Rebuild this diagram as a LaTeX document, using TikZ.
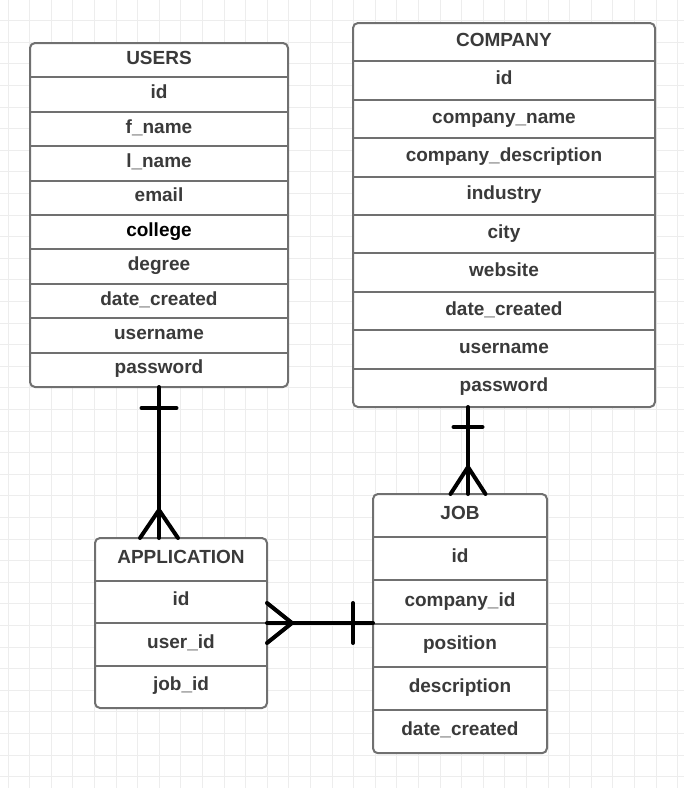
\documentclass[tikz,border=0pt]{standalone}
\usepackage{fontspec}
\setmainfont{Liberation Sans}
\usetikzlibrary{calc}
\pgfdeclarelayer{gridlayer}
\pgfdeclarelayer{background}
\pgfsetlayers{gridlayer,background,main}
\definecolor{gridgray}{HTML}{EDEDED}
\definecolor{boxgray}{HTML}{707070}
\definecolor{textgray}{HTML}{3A3A3A}

\begin{document}
\begin{tikzpicture}[x=1pt, y=-1pt,
every node/.style = {inner sep=0pt, outer sep=0pt, anchor=north west,
text=textgray, font=\fontsize{19}{22}\selectfont\bfseries,
text height=13pt, text depth=5pt},
gridline/.style = {gridgray, line width=1pt},
frame/.style = {boxgray, line width=2pt, rounded corners=5pt},
sep/.style = {boxgray, line width=2pt},
rel/.style = {black, line width=4pt, line cap=round}]
\useasboundingbox (0,0) rectangle (684,788);

% grid paper
\begin{pgfonlayer}{gridlayer}
\fill[white] (0,0) rectangle (684,788);
\foreach \gx in {8,29.6,...,684} \draw[gridline] (\gx,0) -- (\gx,788);
\foreach \gy in {20.6,42.2,...,788} \draw[gridline] (0,\gy) -- (684,\gy);
\end{pgfonlayer}

% USERS
\foreach \f [count=\i from 0] in {USERS,id,f\_name,l\_name,email,
{\textcolor{black}{college}},degree,date\_created,username,password}
\node [minimum width=258pt, minimum height=34.4pt] (users-\i) at (30,{43+34.4*\i}) {\f};
\foreach \i in {0,...,8} \draw[sep] (users-\i.south west) -- (users-\i.south east);
\draw[frame] (users-0.north west) rectangle (users-9.south east);
\begin{pgfonlayer}{background}
\fill[white, rounded corners=5pt] (users-0.north west) rectangle (users-9.south east);
\end{pgfonlayer}

% COMPANY
\foreach \f [count=\i from 0] in {COMPANY,id,company\_name,company\_description,
industry,city,website,date\_created,username,password}
\node [minimum width=302pt, minimum height=38.4pt] (company-\i) at (353,{23+38.4*\i}) {\f};
\foreach \i in {0,...,8} \draw[sep] (company-\i.south west) -- (company-\i.south east);
\draw[frame] (company-0.north west) rectangle (company-9.south east);
\begin{pgfonlayer}{background}
\fill[white, rounded corners=5pt] (company-0.north west) rectangle (company-9.south east);
\end{pgfonlayer}

% JOB
\foreach \f [count=\i from 0] in {JOB,id,company\_id,position,description,date\_created}
\node [minimum width=174pt, minimum height=43.2pt] (job-\i) at (373,{494+43.2*\i}) {\f};
\foreach \i in {0,...,4} \draw[sep] (job-\i.south west) -- (job-\i.south east);
\draw[frame] (job-0.north west) rectangle (job-5.south east);
\begin{pgfonlayer}{background}
\fill[white, rounded corners=5pt] (job-0.north west) rectangle (job-5.south east);
\end{pgfonlayer}

% APPLICATION
\foreach \f [count=\i from 0] in {APPLICATION,id,user\_id,job\_id}
\node [minimum width=172pt, minimum height=42.5pt] (app-\i) at (95,{538+42.5*\i}) {\f};
\foreach \i in {0,...,2} \draw[sep] (app-\i.south west) -- (app-\i.south east);
\draw[frame] (app-0.north west) rectangle (app-3.south east);
\begin{pgfonlayer}{background}
\fill[white, rounded corners=5pt] (app-0.north west) rectangle (app-3.south east);
\end{pgfonlayer}

% users -- application (one to many)
\draw[rel] (users-9.south) -- (users-9.south |- app-0.north);
\draw[rel] (users-9.south) ++(-17.5,21) -- ++(35,0);
\draw[rel] (users-9.south |- app-0.north) ++(-19,0) -- ++(19,-28) -- ++(19,28);

% company -- job (one to many)
\coordinate (jobtop) at ([xshift=8pt]job-0.north);
\draw[rel] (jobtop |- company-9.south) -- (jobtop);
\draw[rel] (jobtop |- company-9.south) ++(-14.5,20) -- ++(29,0);
\draw[rel] (jobtop) ++(-17.5,0) -- ++(17.5,-27) -- ++(17.5,27);

% application -- job (many to one)
\draw[rel] (app-1.south east) -- (app-1.south east -| job-0.west);
\draw[rel] (app-1.south east) ++(0,-20) -- ++(25,20) -- ++(-25,20);
\draw[rel] (app-1.south east -| job-0.west) ++(-20,-20) -- ++(0,40);
\end{tikzpicture}
\end{document}
